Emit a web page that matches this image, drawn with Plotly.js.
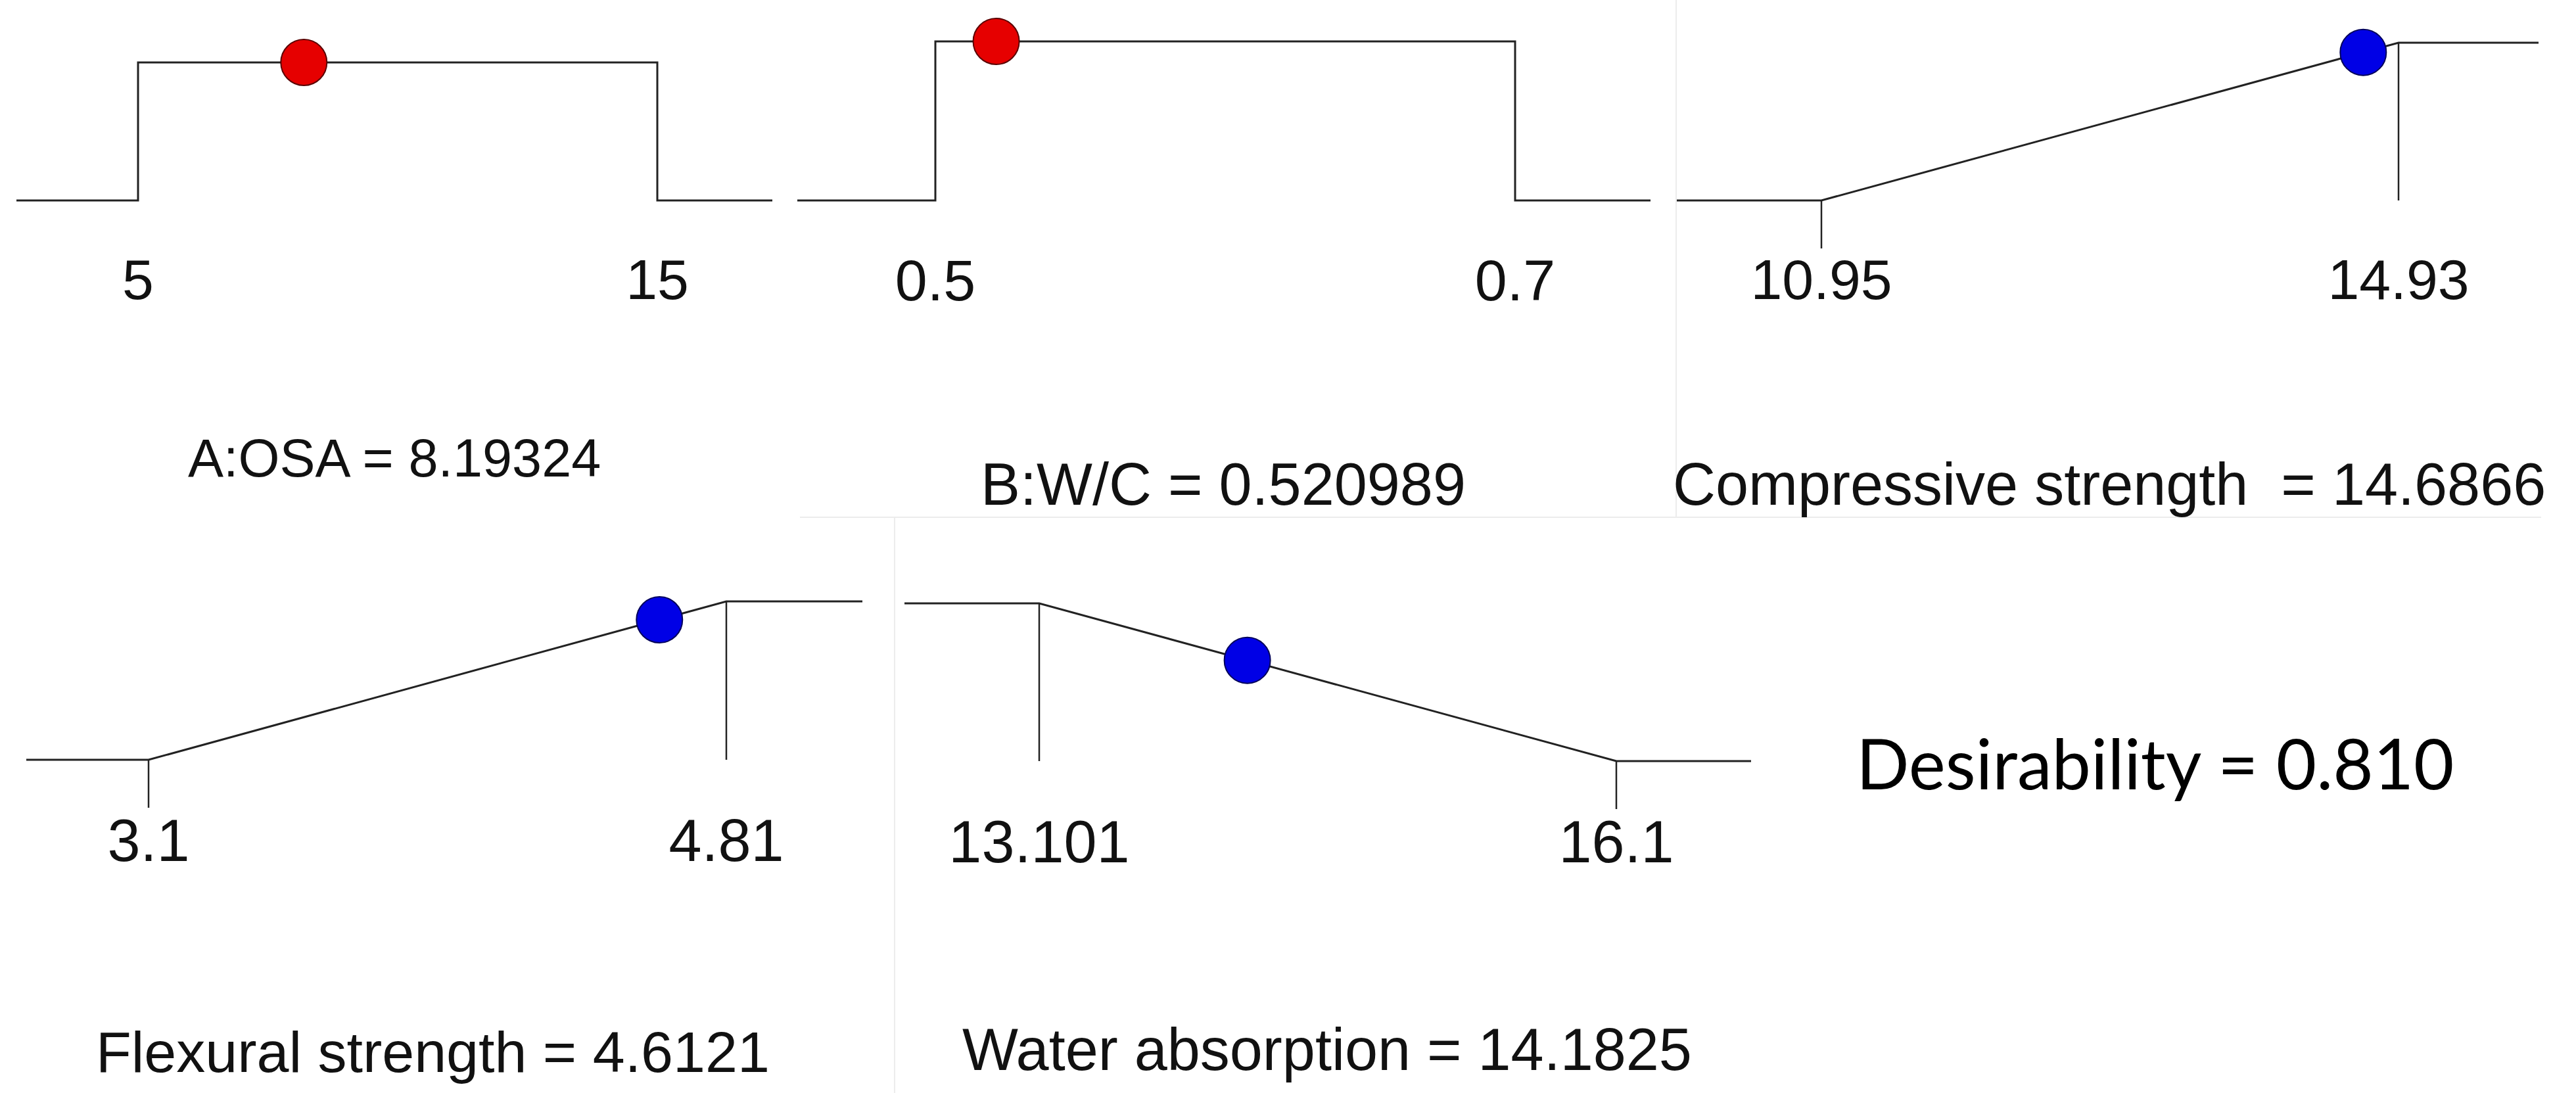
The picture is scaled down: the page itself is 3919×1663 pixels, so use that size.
<!DOCTYPE html>
<html>
<head>
<meta charset="utf-8">
<script src="https://cdn.plot.ly/plotly-3.0.1.min.js"></script>
<style>
html, body { margin: 0; padding: 0; background: #ffffff; }
#chart { width: 3919px; height: 1663px; }
</style>
</head>
<body>
<div id="chart"></div>
<script>
// ---------------- DATA ----------------
const factorNames   = ["A:OSA", "B:W/C", "Compressive strength ", "Flexural strength", "Water absorption"];
const goals         = ["range", "range", "maximize", "maximize", "minimize"];
const lowerLimits   = [5, 0.5, 10.95, 3.1, 13.101];
const upperLimits   = [15, 0.7, 14.93, 4.81, 16.1];
const lowerLabels   = ["5", "0.5", "10.95", "3.1", "13.101"];
const upperLabels   = ["15", "0.7", "14.93", "4.81", "16.1"];
const optimumValues = [8.19324, 0.520989, 14.6866, 4.6121, 14.1825];
const optimumLabels = ["8.19324", "0.520989", "14.6866", "4.6121", "14.1825"];
const individualDesirability = [1, 1, 0.939, 0.884, 0.639];
const overallDesirabilityLabel = "0.810";

// ---------------- LAYOUT / STYLE (pixel geometry of each panel) ----------------
const W = 3919, H = 1663;
const geom = [
  {left: 25,   right: 1175, loPx: 210,  hiPx: 1000, base: 305,  top: 95,  labelFont: 86, titleFont: 81, titleX: 600,  titleY: 697},
  {left: 1213, right: 2511, loPx: 1423, hiPx: 2305, base: 305,  top: 63,  labelFont: 88, titleFont: 90, titleX: 1861, titleY: 737},
  {left: 2550, right: 3862, loPx: 2771, hiPx: 3649, base: 305,  top: 65,  labelFont: 86, titleFont: 90, titleX: 3209, titleY: 737},
  {left: 40,   right: 1312, loPx: 226,  hiPx: 1105, base: 1156, top: 915, labelFont: 90, titleFont: 88, titleX: 658,  titleY: 1600},
  {left: 1376, right: 2664, loPx: 1581, hiPx: 2459, base: 1158, top: 918, labelFont: 90, titleFont: 90, titleX: 2019, titleY: 1597}
];
const dotColors = ["#e60000", "#e60000", "#0000e6", "#0000e6", "#0000e6"];
const dotOutline = ["#5a0000", "#5a0000", "#00005a", "#00005a", "#00005a"];
const lineColor = "#222222";
const dropPx = 73;        // length of the limit tick below the profile
const padBelow = 75;      // axis (domain bottom) below baseline
const padAbove = 45;
const textFont = "Arial, 'Liberation Sans', sans-serif";

const px2x = p => p / W;
const px2y = p => 1 - p / H;

const traces = [];
const layout = {
  width: W, height: H,
  margin: {l: 0, r: 0, t: 0, b: 0, pad: 0},
  paper_bgcolor: "#ffffff", plot_bgcolor: "rgba(0,0,0,0)",
  showlegend: false,
  annotations: [],
  shapes: []
};

for (let i = 0; i < 5; i++) {
  const g = geom[i];
  const lo = lowerLimits[i], hi = upperLimits[i];
  const ppu = (g.hiPx - g.loPx) / (hi - lo);
  const xr0 = lo - (g.loPx - g.left) / ppu;
  const xr1 = hi + (g.right - g.hiPx) / ppu;
  const ppuY = g.base - g.top;
  const yr0 = -padBelow / ppuY, yr1 = 1 + padAbove / ppuY;
  const dropU = dropPx / ppuY;

  const n = i === 0 ? "" : String(i + 1);
  const xa = "x" + n, ya = "y" + n;

  let px, py, dx = [], dy = [];
  if (goals[i] === "range") {
    px = [xr0, lo, lo, hi, hi, xr1]; py = [0, 0, 1, 1, 0, 0];
  } else if (goals[i] === "maximize") {
    px = [xr0, lo, hi, xr1]; py = [0, 0, 1, 1];
    dx = [lo, lo, null, hi, hi]; dy = [0, -dropU, null, 1, 0];
  } else {
    px = [xr0, lo, hi, xr1]; py = [1, 1, 0, 0];
    dx = [lo, lo, null, hi, hi]; dy = [1, 0, null, 0, -dropU];
  }

  traces.push({
    type: "scatter", mode: "lines", x: px, y: py, xaxis: xa, yaxis: ya,
    line: {color: lineColor, width: 3}, hoverinfo: "skip"
  });
  if (dx.length) {
    traces.push({
      type: "scatter", mode: "lines", x: dx, y: dy, xaxis: xa, yaxis: ya,
      line: {color: lineColor, width: 2.5}, hoverinfo: "skip", connectgaps: false
    });
  }
  traces.push({
    type: "scatter", mode: "markers", x: [optimumValues[i]], y: [individualDesirability[i]],
    xaxis: xa, yaxis: ya, cliponaxis: false,
    marker: {size: 70, color: dotColors[i], line: {color: dotOutline[i], width: 2}}
  });

  layout["xaxis" + n] = {
    domain: [px2x(g.left), px2x(g.right)],
    range: [xr0, xr1], anchor: ya,
    showgrid: false, zeroline: false, showline: false, ticks: "",
    tickmode: "array", tickvals: [lo, hi], ticktext: [lowerLabels[i], upperLabels[i]],
    tickfont: {family: textFont, size: g.labelFont, color: "#111111"},
    ticklabelstandoff: -12,
    fixedrange: true
  };
  layout["yaxis" + n] = {
    domain: [px2y(g.base + padBelow), px2y(g.top - padAbove)],
    range: [yr0, yr1], anchor: xa,
    visible: false, fixedrange: true
  };

  layout.annotations.push({
    xref: "paper", yref: "paper", x: px2x(g.titleX), y: px2y(g.titleY),
    xanchor: "center", yanchor: "middle", showarrow: false,
    text: factorNames[i] + " = " + optimumLabels[i],
    font: {family: textFont, size: g.titleFont, color: "#111111"}
  });
}

// overall desirability
layout.annotations.push({
  xref: "paper", yref: "paper", x: px2x(3279), y: px2y(1160),
  xanchor: "center", yanchor: "middle", showarrow: false,
  text: "Desirability = " + overallDesirabilityLabel,
  font: {family: "Lato, 'Open Sans', sans-serif", size: 106, color: "#000000"}
});

// faint panel borders (from the pasted screenshots)
const faint = {color: "#ececec", width: 2};
layout.shapes.push(
  {type: "line", xref: "paper", yref: "paper", x0: px2x(2550), x1: px2x(2550), y0: px2y(0), y1: px2y(787), line: faint},
  {type: "line", xref: "paper", yref: "paper", x0: px2x(1217), x1: px2x(3866), y0: px2y(787), y1: px2y(787), line: faint},
  {type: "line", xref: "paper", yref: "paper", x0: px2x(1361), x1: px2x(1361), y0: px2y(787), y1: px2y(1663), line: faint}
);

Plotly.newPlot("chart", traces, layout, {staticPlot: true, displayModeBar: false});
</script>
</body>
</html>
